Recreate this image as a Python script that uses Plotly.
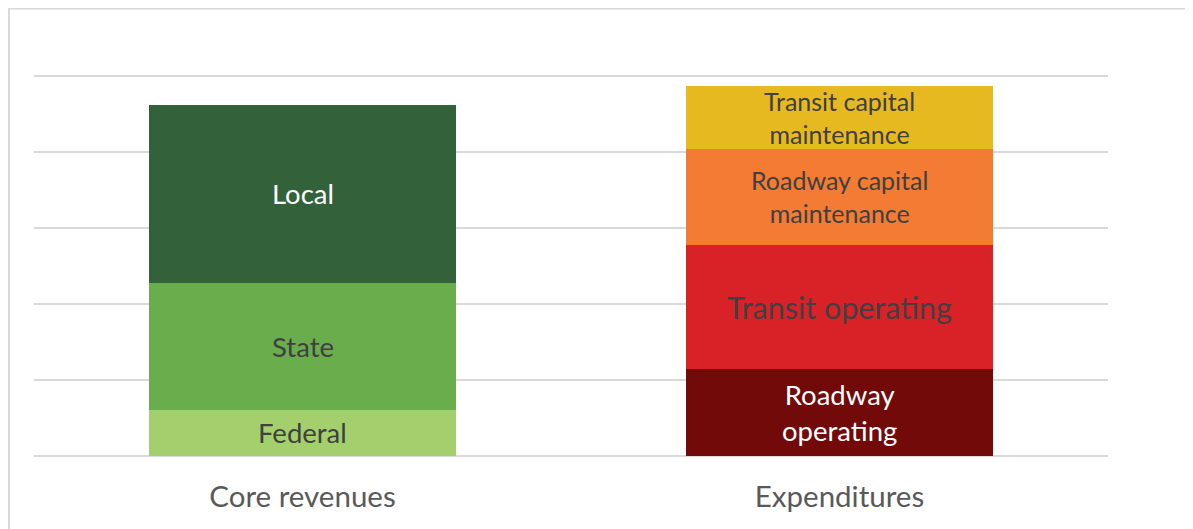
import plotly.graph_objects as go

categories = ["Core revenues", "Expenditures"]

# Segment names (bottom to top) and values (in gridline units)
rev_names = ["Federal", "State", "Local"]
rev_values = [0.605, 1.671, 2.342]
rev_colors = ["#A3D06D", "#6AAD4D", "#33613A"]
rev_text_colors = ["#404040", "#404040", "#FFFFFF"]
rev_labels = ["Federal", "State", "Local"]

exp_names = ["Roadway operating", "Transit operating",
             "Roadway capital maintenance", "Transit capital maintenance"]
exp_values = [1.145, 1.632, 1.263, 0.82]
exp_colors = ["#730A0A", "#D92128", "#F47B34", "#E7B921"]
exp_text_colors = ["#FFFFFF", "#404040", "#404040", "#404040"]
exp_labels = ["Roadway<br>operating", "Transit operating",
              "Roadway capital<br>maintenance", "Transit capital<br>maintenance"]
exp_label_sizes = [27.5, 30.5, 25, 25]
rev_label_sizes = [27.5, 27.5, 27.5]

FONT = "Lato"

fig = go.Figure()
annotations = []

def add_stack(cat, names, values, colors, tcolors, labels, sizes):
    base = 0.0
    for n, v, c, tc, lab, s in zip(names, values, colors, tcolors, labels, sizes):
        fig.add_trace(go.Bar(x=[cat], y=[v], name=n, marker=dict(color=c, line=dict(width=0)),
                             hoverinfo="name+y"))
        annotations.append(dict(x=cat, y=base + v / 2, xref="x", yref="y", text=lab,
                                showarrow=False, font=dict(family=FONT, size=s, color=tc),
                                align="center"))
        base += v

add_stack(categories[0], rev_names, rev_values, rev_colors, rev_text_colors, rev_labels, rev_label_sizes)
add_stack(categories[1], exp_names, exp_values, exp_colors, exp_text_colors, exp_labels, exp_label_sizes)

fig.update_layout(
    width=1193, height=529,
    margin=dict(l=26, r=93, t=66, b=81),
    barmode="stack", bargap=0.428,
    showlegend=False,
    plot_bgcolor="white", paper_bgcolor="white",
    annotations=annotations,
    shapes=[dict(type="rect", xref="paper", yref="paper",
                 x0=-0.0233, x1=1.3, y0=-0.5, y1=1.1717,
                 line=dict(color="#D9D9D9", width=2), fillcolor="rgba(0,0,0,0)", layer="below")],
)
fig.update_xaxes(
    categoryorder="array", categoryarray=categories,
    showgrid=False, showline=False, ticks="",
    tickfont=dict(family=FONT, size=29.5, color="#595959"),
    ticklabelstandoff=20,
)
fig.update_yaxes(
    range=[0, 5.02], tickvals=[0, 1, 2, 3, 4, 5], showticklabels=False,
    showgrid=True, gridcolor="#D9D9D9", gridwidth=1.5,
    zeroline=True, zerolinecolor="#D9D9D9", zerolinewidth=1.5,
    showline=False, ticks="",
)

fig.write_html("out.html")
